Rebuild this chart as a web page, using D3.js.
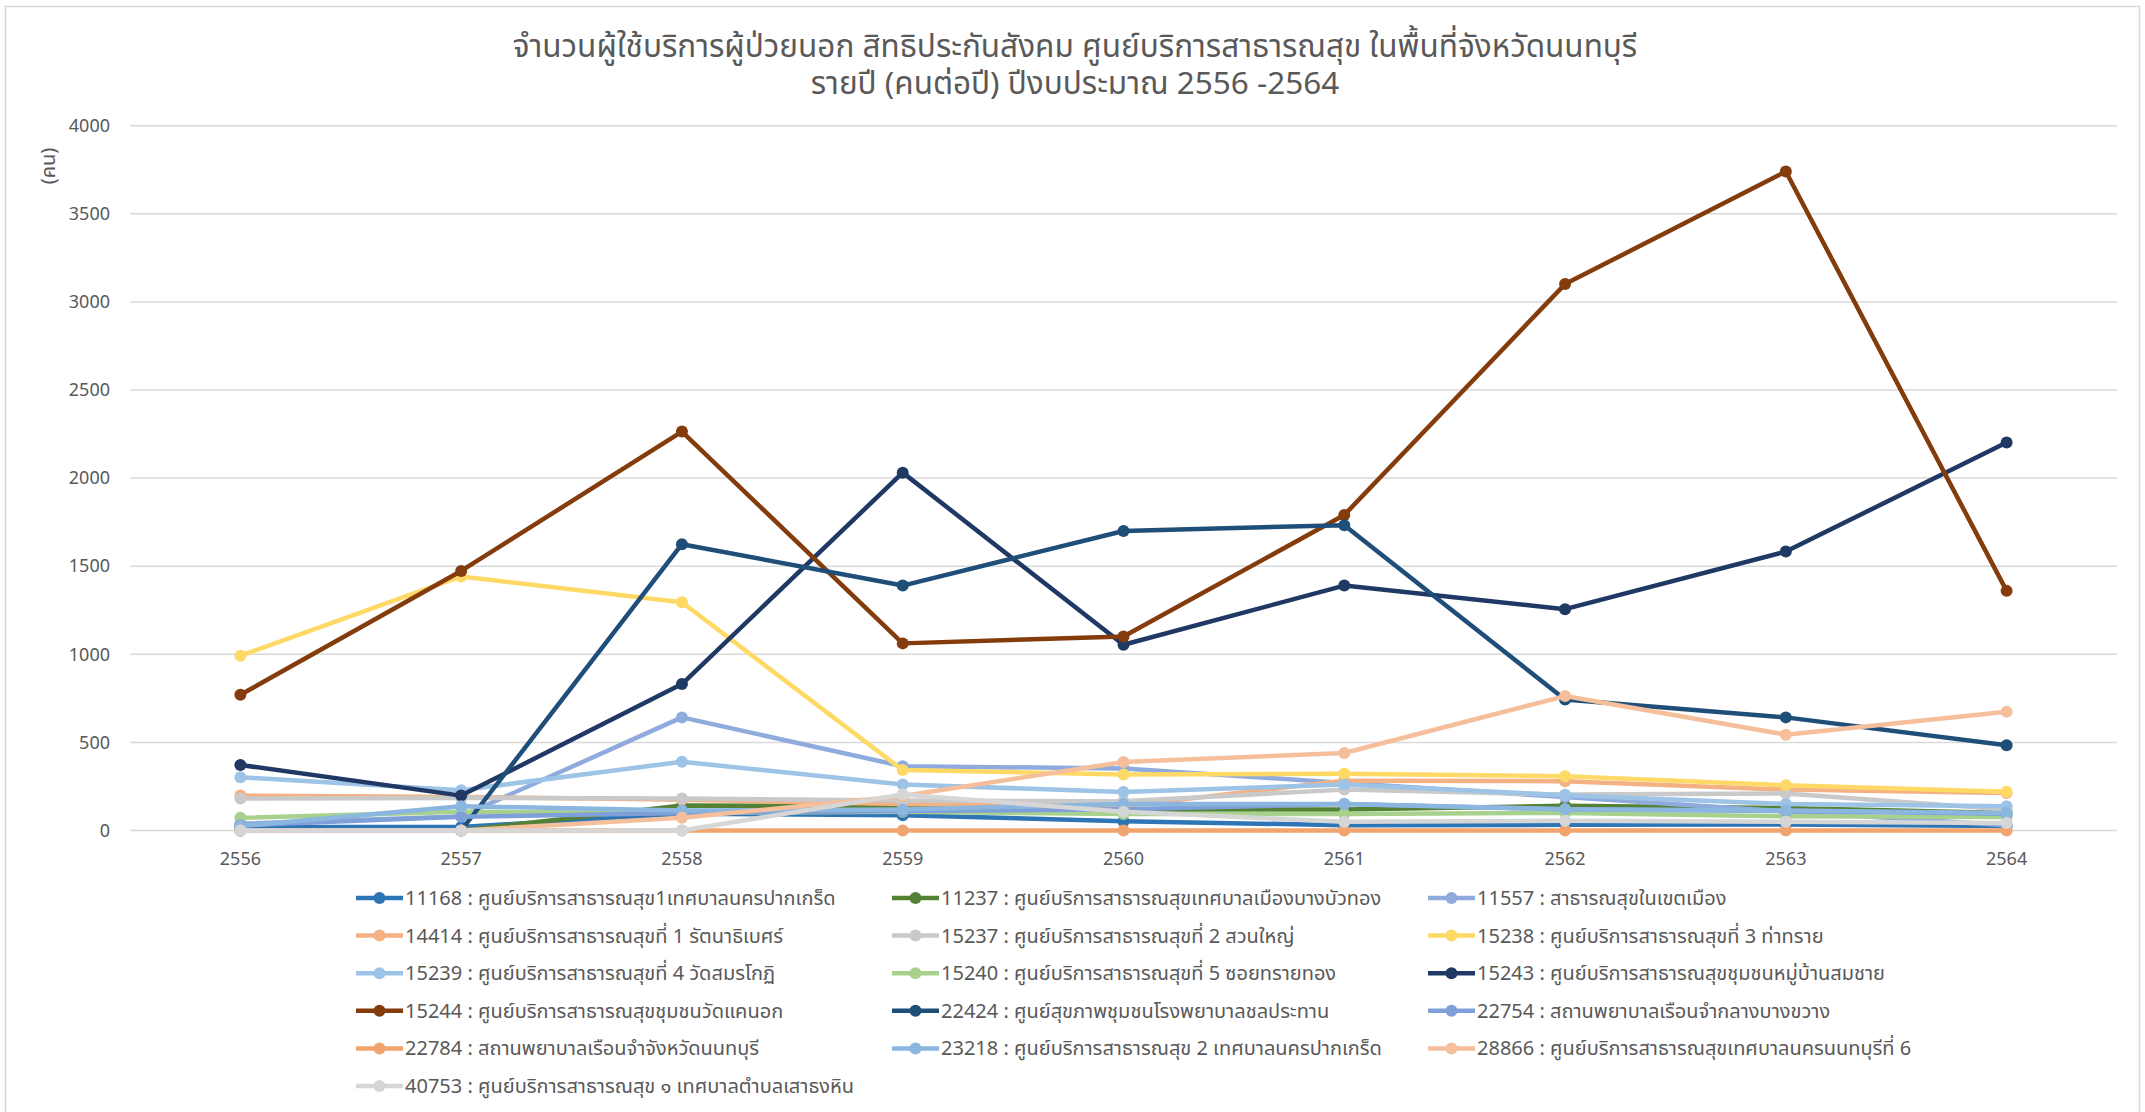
<!DOCTYPE html>
<html lang="th">
<head>
  <meta charset="UTF-8">
  <title>OPD chart</title>
  <script src="https://d3js.org/d3.v7.min.js"></script>
  <style>
    body { margin: 0; background: #fff; }
    text { font-family: "Noto Sans Thai", "Noto Sans", "DejaVu Sans", sans-serif; fill: #595959; }
  </style>
</head>
<body>
  <svg id="svg" width="2145" height="1112"></svg>
  <script>
    // ปีงบประมาณ
    var years = ['2556', '2557', '2558', '2559', '2560', '2561', '2562', '2563', '2564']
    var yTicks = [0, 500, 1000, 1500, 2000, 2500, 3000, 3500, 4000]

    // ค่าของแต่ละหน่วยบริการ (คนต่อปี)
    var v11168 = [20, 20, 95, 87, 53, 30, 32, 34, 25]
    var v11237 = [0, 0, 142, 138, 119, 119, 140, 128, 100]
    var v11557 = [38, 80, 642, 365, 352, 270, 190, 108, 30]
    var v14414 = [198, 190, 175, 150, 138, 283, 280, 232, 213]
    var v15237 = [181, 185, 181, 170, 166, 232, 204, 210, 119]
    var v15238 = [992, 1442, 1295, 343, 318, 322, 308, 257, 220]
    var v15239 = [302, 229, 390, 261, 219, 261, 200, 151, 138]
    var v15240 = [72, 106, 100, 106, 94, 94, 100, 81, 76]
    var v15243 = [372, 198, 831, 2031, 1054, 1390, 1256, 1583, 2202]
    var v15244 = [770, 1473, 2264, 1062, 1101, 1791, 3101, 3740, 1360]
    var v22424 = [0, 0, 1625, 1390, 1700, 1733, 743, 642, 484]
    var v22754 = [30, 78, 100, 110, 120, 150, 120, 110, 95]
    var v22784 = [0, 0, 0, 0, 0, 0, 0, 0, 0]
    var v23218 = [25, 138, 113, 119, 151, 151, 121, 113, 100]
    var v28866 = [0, 0, 72, 196, 389, 440, 763, 544, 674]
    var v40753 = [0, 0, 0, 204, 106, 49, 55, 49, 43]

    var names = [
      '11168 : ศูนย์บริการสาธารณสุข1เทศบาลนครปากเกร็ด',
      '11237 : ศูนย์บริการสาธารณสุขเทศบาลเมืองบางบัวทอง',
      '11557 : สาธารณสุขในเขตเมือง',
      '14414 : ศูนย์บริการสาธารณสุขที่ 1 รัตนาธิเบศร์',
      '15237 : ศูนย์บริการสาธารณสุขที่ 2 สวนใหญ่',
      '15238 : ศูนย์บริการสาธารณสุขที่ 3 ท่าทราย',
      '15239 : ศูนย์บริการสาธารณสุขที่ 4 วัดสมรโกฏิ',
      '15240 : ศูนย์บริการสาธารณสุขที่ 5 ซอยทรายทอง',
      '15243 : ศูนย์บริการสาธารณสุขชุมชนหมู่บ้านสมชาย',
      '15244 : ศูนย์บริการสาธารณสุขชุมชนวัดแคนอก',
      '22424 : ศูนย์สุขภาพชุมชนโรงพยาบาลชลประทาน',
      '22754 : สถานพยาบาลเรือนจำกลางบางขวาง',
      '22784 : สถานพยาบาลเรือนจำจังหวัดนนทบุรี',
      '23218 : ศูนย์บริการสาธารณสุข 2 เทศบาลนครปากเกร็ด',
      '28866 : ศูนย์บริการสาธารณสุขเทศบาลนครนนทบุรีที่ 6',
      '40753 : ศูนย์บริการสาธารณสุข ๑ เทศบาลตำบลเสาธงหิน'
    ]
    var colors = ['#2E75B6', '#548235', '#8FAADC', '#F4B183', '#C9C9C9', '#FFD966',
      '#9DC3E6', '#A9D18E', '#203864', '#843C0C', '#1F4E79', '#7F9FD8',
      '#F1A46E', '#8AB6E0', '#F5BF9C', '#D6D6D6']

    var values = [v11168, v11237, v11557, v14414, v15237, v15238, v15239, v15240,
      v15243, v15244, v22424, v22754, v22784, v23218, v28866, v40753]
    var series = names.map((n, i) => ({ name: n, color: colors[i], values: values[i] }))

    var svg = d3.select('svg')

    // กรอบแผนภูมิ
    svg.append('rect')
      .attr('x', 5.5).attr('y', 6.5)
      .attr('width', 2134).attr('height', 1120)
      .attr('fill', 'none').attr('stroke', '#D9D9D9').attr('stroke-width', 1.5)

    var x = d3.scaleBand()
      .domain(years)
      .range([130, 2117])
    var y = d3.scaleLinear()
      .domain([0, 4000])
      .range([830.5, 125.7])

    // เส้นกริด
    svg.append('g')
      .selectAll('line')
      .data(yTicks)
      .enter()
      .append('line')
      .attr('x1', 130).attr('x2', 2117)
      .attr('y1', d => y(d)).attr('y2', d => y(d))
      .attr('stroke', '#D9D9D9').attr('stroke-width', 1.5)

    var yAxis = svg.append('g')
      .attr('transform', 'translate(130,0)')
      .call(d3.axisLeft(y).tickValues(yTicks).tickFormat(d3.format('d')).tickSize(0).tickPadding(20))
    yAxis.select('.domain').remove()
    yAxis.selectAll('text').style('font-size', '18px').attr('fill', '#595959')

    var xAxis = svg.append('g')
      .attr('transform', 'translate(0,831)')
      .call(d3.axisBottom(x).tickSize(0).tickPadding(21))
    xAxis.select('.domain').remove()
    xAxis.selectAll('text').style('font-size', '18px').attr('fill', '#595959')

    var cx = d => x(d) + x.bandwidth() / 2

    var line = d3.line()
      .x((d, i) => cx(years[i]))
      .y(d => y(d))

    var g = svg.append('g')
    series.forEach(s => {
      g.append('path')
        .attr('d', line(s.values))
        .attr('fill', 'none')
        .attr('stroke', s.color)
        .attr('stroke-width', 4.5)
        .attr('stroke-linejoin', 'round')
      g.selectAll(null)
        .data(s.values)
        .enter()
        .append('circle')
        .attr('cx', (d, i) => cx(years[i]))
        .attr('cy', d => y(d))
        .attr('r', 6)
        .attr('fill', s.color)
    })

    // ชื่อแผนภูมิ
    var title = svg.append('text')
      .attr('text-anchor', 'middle')
      .style('font-size', '31.5px')
    title.append('tspan').attr('x', 1075).attr('y', 57)
      .text('จำนวนผู้ใช้บริการผู้ป่วยนอก สิทธิประกันสังคม ศูนย์บริการสาธารณสุข ในพื้นที่จังหวัดนนทบุรี')
    title.append('tspan').attr('x', 1075).attr('y', 94)
      .text('รายปี (คนต่อปี) ปีงบประมาณ 2556 -2564')

    svg.append('text')
      .attr('transform', 'translate(55,166) rotate(-90)')
      .attr('text-anchor', 'middle')
      .style('font-size', '20px')
      .text('(คน)')

    // คำอธิบายสัญลักษณ์
    var legend = svg.append('g')
      .selectAll('g')
      .data(series)
      .enter()
      .append('g')
      .attr('transform', (d, i) => 'translate(' + (356 + (i % 3) * 536) + ',' + (898 + Math.floor(i / 3) * 37.6) + ')')
    legend.append('line')
      .attr('x1', 0).attr('x2', 47)
      .attr('stroke', d => d.color).attr('stroke-width', 4.5)
    legend.append('circle')
      .attr('cx', 23.5).attr('r', 6)
      .attr('fill', d => d.color)
    legend.append('text')
      .attr('x', 49).attr('y', 7)
      .style('font-size', '20px')
      .text(d => d.name)
  </script>
</body>
</html>
